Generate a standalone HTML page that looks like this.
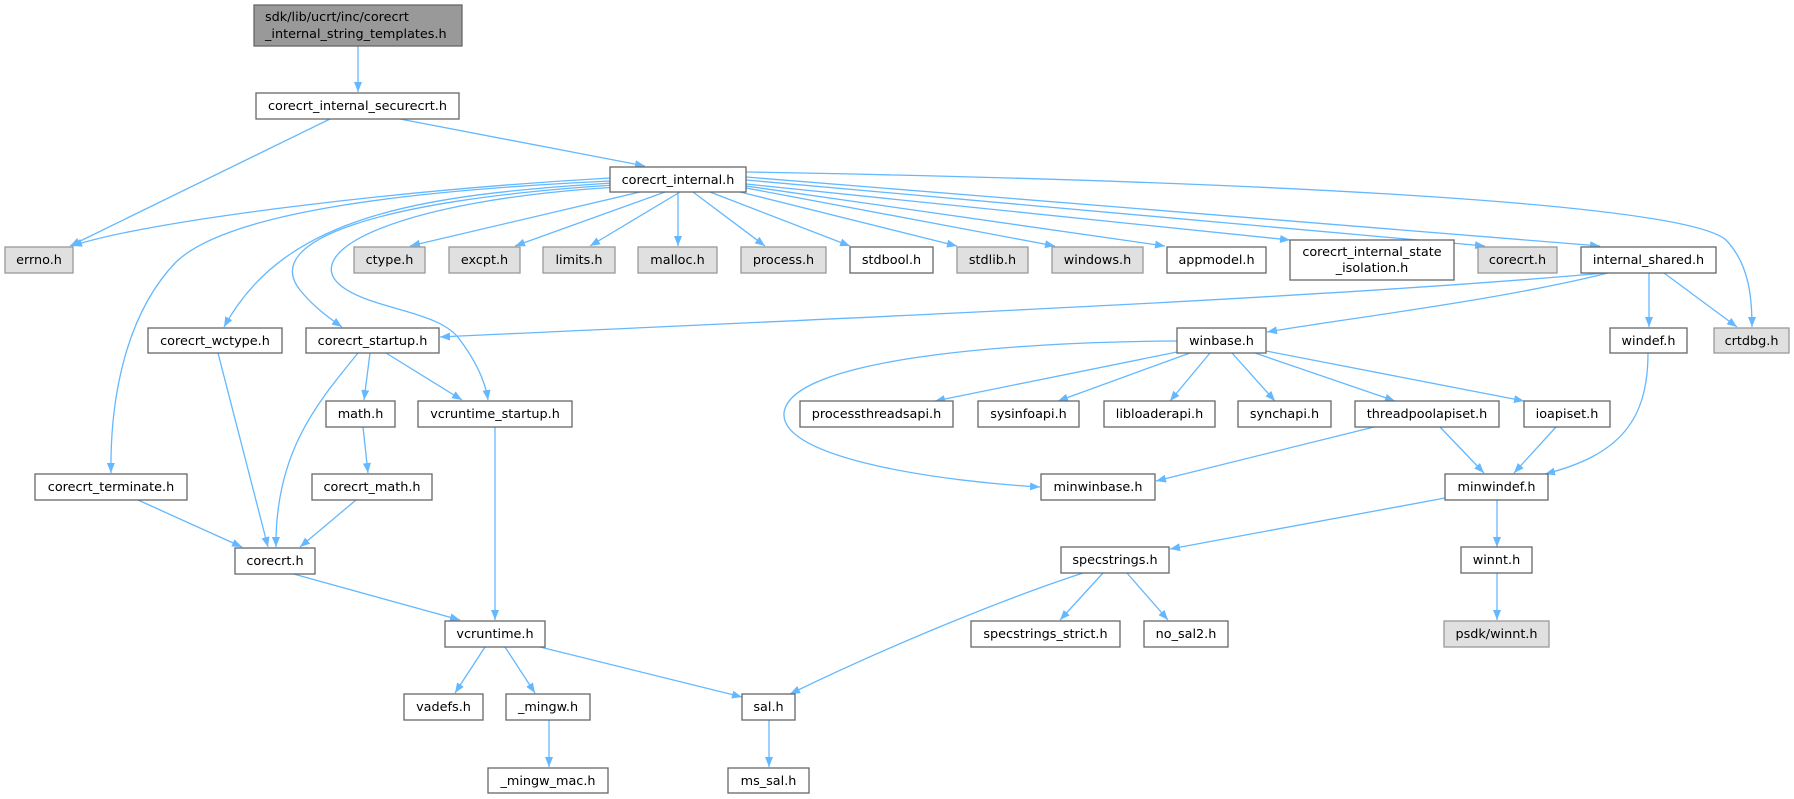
<!DOCTYPE html>
<html><head><meta charset="utf-8"><style>
html,body{margin:0;padding:0;background:#fff;}
svg{display:block;}
text{font-family:"DejaVu Sans","Liberation Sans",sans-serif;font-size:12.8px;fill:#000;}
.n{fill:#fff;stroke:#666;stroke-width:1.3;}
.g{fill:#e0e0e0;stroke:#999;stroke-width:1.3;}
.e{fill:none;stroke:#63b8ff;stroke-width:1.3;}
</style></head><body>
<svg width="1794" height="799" viewBox="0 0 1794 799" xmlns="http://www.w3.org/2000/svg">
<defs><marker id="a" markerWidth="10" markerHeight="8" refX="10" refY="4" orient="auto" markerUnits="userSpaceOnUse"><path d="M0,0 L10,4 L0,8 z" fill="#63b8ff"/></marker></defs>
<g class="e" marker-end="url(#a)">
<path d="M358,46 L358,92"/>
<path d="M330,119 L70,246"/>
<path d="M400,119 L645,166"/>
<path d="M610,178 C400,190 150,220 72,246"/>
<path d="M610,181 C420,190 230,210 176,262 C125,315 110,400 111,473"/>
<path d="M612,183 C420,195 285,215 224,327"/>
<path d="M614,185 C380,200 260,240 300,290 C312,305 325,315 342,327"/>
<path d="M618,187 C400,200 300,250 340,285 C370,310 440,310 460,340 C475,360 485,380 488,400"/>
<path d="M640,192 L410,246"/>
<path d="M665,192 L515,246"/>
<path d="M680,192 L590,246"/>
<path d="M678,192 L678,246"/>
<path d="M693,192 L765,246"/>
<path d="M710,192 L850,246"/>
<path d="M740,192 L957,246"/>
<path d="M746,188 L1055,246"/>
<path d="M746,186 L1165,246"/>
<path d="M746,184 L1290,240"/>
<path d="M746,180 L1485,246"/>
<path d="M746,177 L1600,246"/>
<path d="M746,172 C1200,180 1680,200 1726,240 C1750,265 1752,300 1752,327"/>
<path d="M1605,273 C1300,300 800,320 440,337"/>
<path d="M1608,273 C1500,300 1350,318 1267,332"/>
<path d="M1649,273 L1649,327"/>
<path d="M1664,273 L1737,327"/>
<path d="M218,353 L268,547"/>
<path d="M358,353 C320,400 275,450 276,547"/>
<path d="M370,353 L364,400"/>
<path d="M386,353 L462,400"/>
<path d="M363,427 L368,473"/>
<path d="M356,500 L300,547"/>
<path d="M138,500 L242,547"/>
<path d="M495,427 L495,620"/>
<path d="M290,573 L460,620"/>
<path d="M1177,341 C1000,342 790,360 784,413 C780,460 950,482 1040,487"/>
<path d="M1177,352 L935,401"/>
<path d="M1190,353 L1058,401"/>
<path d="M1210,353 L1170,401"/>
<path d="M1232,353 L1275,401"/>
<path d="M1255,353 L1395,401"/>
<path d="M1266,351 L1524,401"/>
<path d="M1374,427 L1156,481"/>
<path d="M1440,427 L1484,473"/>
<path d="M1556,427 L1514,473"/>
<path d="M1648,353 C1648,420 1620,455 1545,474"/>
<path d="M1445,498 L1170,549"/>
<path d="M1497,500 L1497,547"/>
<path d="M1497,573 L1497,620"/>
<path d="M1103,573 L1060,620"/>
<path d="M1127,573 L1168,620"/>
<path d="M1083,573 C1000,600 880,650 790,694"/>
<path d="M485,647 L455,693"/>
<path d="M505,647 L535,693"/>
<path d="M540,647 L742,697"/>
<path d="M549,720 L549,767"/>
<path d="M769,720 L769,767"/>
</g>
<rect x="254" y="5" width="208" height="41" fill="#999" stroke="#666" stroke-width="1.3"/>
<text x="265" y="21">sdk/lib/ucrt/inc/corecrt</text>
<text x="265" y="38">_internal_string_templates.h</text>
<g>
<rect class="n" x="256" y="93" width="203" height="26"/><text x="357.5" y="110" text-anchor="middle">corecrt_internal_securecrt.h</text>
<rect class="n" x="610" y="167" width="136" height="25"/><text x="678" y="184" text-anchor="middle">corecrt_internal.h</text>
</g>
<g text-anchor="middle">
<rect class="g" x="5" y="247" width="68" height="26"/><text x="39" y="264">errno.h</text>
<rect class="g" x="354" y="247" width="71" height="26"/><text x="389.5" y="264">ctype.h</text>
<rect class="g" x="449" y="247" width="71" height="26"/><text x="484.5" y="264">excpt.h</text>
<rect class="g" x="543" y="247" width="72" height="26"/><text x="579" y="264">limits.h</text>
<rect class="g" x="638" y="247" width="79" height="26"/><text x="677.5" y="264">malloc.h</text>
<rect class="g" x="741" y="247" width="85" height="26"/><text x="783.5" y="264">process.h</text>
<rect class="n" x="850" y="247" width="83" height="26"/><text x="891.5" y="264">stdbool.h</text>
<rect class="g" x="957" y="247" width="71" height="26"/><text x="992.5" y="264">stdlib.h</text>
<rect class="g" x="1052" y="247" width="91" height="26"/><text x="1097.5" y="264">windows.h</text>
<rect class="n" x="1167" y="247" width="99" height="26"/><text x="1216.5" y="264">appmodel.h</text>
<rect class="n" x="1290" y="240" width="164" height="40"/><text x="1372" y="256">corecrt_internal_state</text><text x="1372" y="272">_isolation.h</text>
<rect class="g" x="1478" y="247" width="79" height="26"/><text x="1517.5" y="264">corecrt.h</text>
<rect class="n" x="1581" y="247" width="135" height="26"/><text x="1648.5" y="264">internal_shared.h</text>

<rect class="n" x="148" y="328" width="134" height="25"/><text x="215" y="345">corecrt_wctype.h</text>
<rect class="n" x="306" y="328" width="133" height="25"/><text x="372.5" y="345">corecrt_startup.h</text>
<rect class="n" x="1177" y="328" width="89" height="25"/><text x="1221.5" y="345">winbase.h</text>
<rect class="n" x="1610" y="328" width="77" height="25"/><text x="1648.5" y="345">windef.h</text>
<rect class="g" x="1714" y="328" width="75" height="25"/><text x="1751.5" y="345">crtdbg.h</text>

<rect class="n" x="326" y="401" width="69" height="26"/><text x="360.5" y="418">math.h</text>
<rect class="n" x="418" y="401" width="154" height="26"/><text x="495" y="418">vcruntime_startup.h</text>
<rect class="n" x="800" y="401" width="153" height="26"/><text x="876.5" y="418">processthreadsapi.h</text>
<rect class="n" x="978" y="401" width="101" height="26"/><text x="1028.5" y="418">sysinfoapi.h</text>
<rect class="n" x="1104" y="401" width="111" height="26"/><text x="1159.5" y="418">libloaderapi.h</text>
<rect class="n" x="1238" y="401" width="93" height="26"/><text x="1284.5" y="418">synchapi.h</text>
<rect class="n" x="1355" y="401" width="144" height="26"/><text x="1427" y="418">threadpoolapiset.h</text>
<rect class="n" x="1524" y="401" width="86" height="26"/><text x="1567" y="418">ioapiset.h</text>

<rect class="n" x="35" y="474" width="152" height="26"/><text x="111" y="491">corecrt_terminate.h</text>
<rect class="n" x="312" y="474" width="120" height="26"/><text x="372" y="491">corecrt_math.h</text>
<rect class="n" x="1041" y="474" width="114" height="26"/><text x="1098" y="491">minwinbase.h</text>
<rect class="n" x="1445" y="474" width="103" height="26"/><text x="1496.5" y="491">minwindef.h</text>

<rect class="n" x="235" y="548" width="80" height="26"/><text x="275" y="565">corecrt.h</text>
<rect class="n" x="1061" y="547" width="108" height="26"/><text x="1115" y="564">specstrings.h</text>
<rect class="n" x="1461" y="547" width="71" height="26"/><text x="1496.5" y="564">winnt.h</text>

<rect class="n" x="445" y="621" width="100" height="26"/><text x="495" y="638">vcruntime.h</text>
<rect class="n" x="971" y="621" width="149" height="26"/><text x="1045.5" y="638">specstrings_strict.h</text>
<rect class="n" x="1144" y="621" width="84" height="26"/><text x="1186" y="638">no_sal2.h</text>
<rect class="g" x="1444" y="621" width="105" height="26"/><text x="1496.5" y="638">psdk/winnt.h</text>

<rect class="n" x="404" y="694" width="79" height="26"/><text x="443.5" y="711">vadefs.h</text>
<rect class="n" x="506" y="694" width="84" height="26"/><text x="548" y="711">_mingw.h</text>
<rect class="n" x="742" y="694" width="53" height="26"/><text x="768.5" y="711">sal.h</text>

<rect class="n" x="488" y="768" width="120" height="25"/><text x="548" y="785">_mingw_mac.h</text>
<rect class="n" x="728" y="768" width="81" height="25"/><text x="768.5" y="785">ms_sal.h</text>
</g>
</svg>
</body></html>
